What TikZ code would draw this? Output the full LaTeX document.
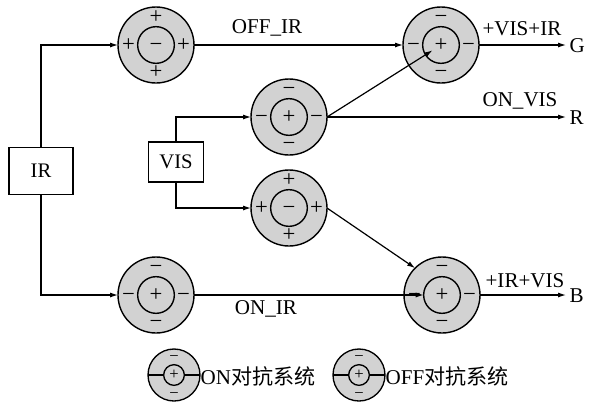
\documentclass[tikz,border=0pt]{standalone}
\usepackage{fontspec}
\setmainfont{Liberation Serif}
\newfontfamily\cjk{Noto Sans CJK SC}
\usetikzlibrary{arrows.meta,calc}
\definecolor{ringgray}{RGB}{210,210,210}
\newcommand\sgnplus{+}
\newcommand\sgnminus{\vphantom{+}−}
% #1 name, #2 x, #3 y, #4 centre sign, #5 ring sign
\newcommand\mkunit[5]{%
  \node[outerc] (#1) at (#2,#3) {};
  \node[innerc] (#1i) at (#2,#3) {#4};
  \node[sgn] (#1n) at (#2,#3-27.5) {#5};
  \node[sgn] (#1s) at (#2,#3+27.5) {#5};
  \node[sgn] (#1w) at (#2-27.5,#3) {#5};
  \node[sgn] (#1e) at (#2+27.5,#3) {#5};
}
% legend icon: #1 name, #2 x, #3 y
\newcommand\mklegicon[3]{%
  \node[legouter] (#1) at (#2,#3) {};
  \node[leginner] (#1i) at (#2,#3) {+};
  \node[legsgn] (#1n) at (#2,#3-18.5) {\vphantom{+}−};
  \node[legsgn] (#1s) at (#2,#3+18.5) {\vphantom{+}−};
  \draw[line width=0.95pt] (#1.west) -- (#1i.west);
  \draw[line width=0.95pt] (#1.east) -- (#1i.east);
}
\begin{document}
\begin{tikzpicture}[x=0.75pt,y=-0.75pt,
  line width=0.9pt,
  arr/.style={-{Latex[length=6pt,width=3.8pt]}},
  outerc/.style={circle, draw, line width=1.05pt, fill=ringgray, minimum size=57pt, inner sep=0pt, outer sep=0pt},
  innerc/.style={circle, draw, line width=1.05pt, minimum size=27.5pt, inner sep=0pt, outer sep=0pt, font=\fontsize{17}{20}\selectfont},
  sgn/.style={inner sep=0pt, font=\fontsize{17}{20}\selectfont},
  legouter/.style={circle, draw, line width=1pt, fill=ringgray, minimum size=39pt, inner sep=0pt, outer sep=0pt},
  leginner/.style={circle, draw, line width=1pt, minimum size=15.5pt, inner sep=0pt, outer sep=0pt, font=\fontsize{12.5}{14}\selectfont},
  legsgn/.style={inner sep=0pt, font=\fontsize{12.5}{14}\selectfont},
  lbl/.style={inner sep=0pt, font=\fontsize{15.8}{18}\selectfont},
  box/.style={draw, line width=0.95pt, fill=white, inner sep=0pt, font=\fontsize{15.5}{18}\selectfont}
]
\useasboundingbox (0,0) rectangle (590,405);

% units
\mkunit{c1}{156}{45}{\sgnminus}{\sgnplus}
\mkunit{c2}{441}{45}{\sgnplus}{\sgnminus}
\mkunit{m1}{289}{117}{\sgnplus}{\sgnminus}
\mkunit{m2}{289}{208}{\sgnminus}{\sgnplus}
\mkunit{d1}{156}{295}{\sgnplus}{\sgnminus}
\mkunit{b2}{442}{295}{\sgnplus}{\sgnminus}

% source boxes
\node[box, minimum width=48pt, minimum height=35pt] (ir) at (41,171) {IR};
\node[box, minimum width=41pt, minimum height=30pt] (vis) at (176,162) {VIS};

% outputs
\coordinate (G) at (566,45);
\coordinate (R) at (566,117);
\coordinate (B) at (566,295);
\node[lbl, anchor=west] (Gl) at (569,46) {G};
\node[lbl, anchor=west] (Rl) at (569,118) {R};
\node[lbl, anchor=west] (Bl) at (569,296) {B};

% connectors
\draw[arr] (ir.north) |- (c1.west);
\draw[arr] (ir.south) |- (d1.west);
\draw[arr] (vis.north) |- (m1.west);
\draw[arr] (vis.south) |- (m2.west);
\draw[arr] (c1.east) -- (c2.west);
\draw[arr] (c2.east) -- (G);
\draw[arr] (m1.east) -- ($(c2.center)!7.5pt!(m1.east)$);
\draw[arr] (m1.east) -- (R);
\draw[arr] (m2.east) -- (b2.135);
\draw[arr] (d1.east) -- (b2i.west);
\draw[arr] (b2.east) -- (B);

% labels
\node[lbl] (l1) at (267,28) {OFF\_IR};
\node[lbl] (l2) at (266,309) {ON\_IR};
\node[lbl] (l3) at (522,29) {+VIS+IR};
\node[lbl] (l4) at (520,101) {ON\_VIS};
\node[lbl] (l5) at (525,281) {+IR+VIS};

% legend
\mklegicon{lg1}{174}{375}
\node[lbl, anchor=west] (lt1) at (200,376) {ON{\cjk 对抗系统}};
\mklegicon{lg2}{359}{375}
\node[lbl, anchor=west] (lt2) at (385,376) {OFF{\cjk 对抗系统}};
\end{tikzpicture}
\end{document}
